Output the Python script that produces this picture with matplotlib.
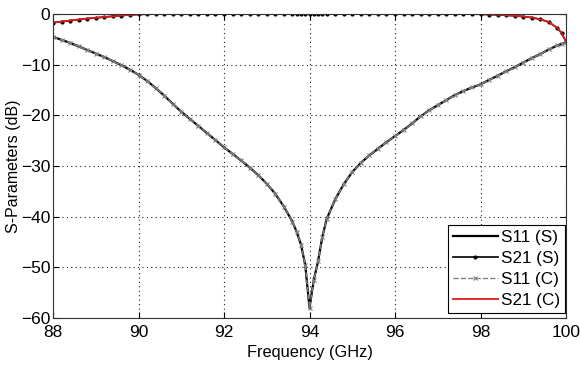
import matplotlib
matplotlib.use("Agg")
import matplotlib.pyplot as plt

plt.rcParams['font.family'] = ['Liberation Sans', 'DejaVu Sans']

freq = [88.0, 88.2, 88.4, 88.6, 88.8, 89.0, 89.2, 89.4, 89.6, 89.8,
        90.0, 90.2, 90.4, 90.6, 90.8, 91.0, 91.2, 91.4, 91.6, 91.8,
        92.0, 92.2, 92.4, 92.6, 92.8, 93.0, 93.2, 93.4, 93.6,
        93.7, 93.8, 93.9, 94.0, 94.1, 94.2, 94.3, 94.4,
        94.6, 94.8, 95.0, 95.2, 95.4, 95.6, 95.8, 96.0, 96.2, 96.4,
        96.6, 96.8, 97.0, 97.2, 97.4, 97.6, 97.8, 98.0, 98.2, 98.4,
        98.6, 98.8, 99.0, 99.2, 99.4, 99.6, 99.8,
        99.9, 100.0]

s11_sim = [-4.5, -5.1, -5.7, -6.4, -7.1, -7.8, -8.5, -9.3, -10.1, -11.0,
           -12.0, -13.2, -14.6, -16.1, -17.7, -19.3, -20.7, -22.1, -23.5, -24.9,
           -26.3, -27.6, -28.9, -30.3, -31.8, -33.5, -35.5, -38.0, -41.0,
           -43.0, -45.5, -49.5, -58.0, -52.5, -48.8, -44.0, -40.5,
           -36.6, -33.6, -31.2, -29.4, -27.9, -26.6, -25.3, -24.1, -22.9, -21.6,
           -20.2, -19.0, -18.0, -17.0, -16.0, -15.2, -14.5, -13.9, -13.0, -12.2,
           -11.3, -10.5, -9.6, -8.7, -7.9, -7.0, -6.2,
           -5.9, -5.6]

s21_sim = [-1.7, -1.5, -1.3, -1.1, -0.9, -0.75, -0.6, -0.45, -0.3, -0.18,
           -0.08, -0.03, -0.01, 0.0, 0.0, 0.0, 0.0, 0.0, 0.0, 0.0,
           0.0, 0.0, 0.0, 0.0, 0.0, 0.0, 0.0, 0.0, 0.0,
           0.0, 0.0, 0.0, 0.0, 0.0, 0.0, 0.0, 0.0,
           0.0, 0.0, 0.0, 0.0, 0.0, 0.0, 0.0, 0.0, 0.0, 0.0,
           0.0, 0.0, 0.0, 0.0, 0.0, 0.0, -0.02, -0.05, -0.1, -0.15,
           -0.25, -0.35, -0.5, -0.7, -1.05, -1.6, -2.8,
           -3.8, -5.5]

s11_circ = list(s11_sim)
s21_circ = list(s21_sim)

labels = ['S11 (S)', 'S21 (S)', 'S11 (C)', 'S21 (C)']
xticks = [88, 90, 92, 94, 96, 98, 100]
yticks = [0, -10, -20, -30, -40, -50, -60]

assert len(freq) == len(s11_sim) == len(s21_sim)

fig = plt.figure(figsize=(5.8, 3.68), dpi=100)
ax = fig.add_axes([53/580, 1-318/368, (566-53)/580, (318-14)/368])

ax.plot(freq, s11_sim, color='black', lw=1.6, label=labels[0])
ax.plot(freq, s21_sim, color='black', lw=1.2, marker='.', ms=4, label=labels[1])
ax.plot(freq, s11_circ, color='#808080', lw=1.0, ls='--', marker='x', ms=3.5,
        mew=0.8, label=labels[2])
ax.plot(freq, s21_circ, color='#dd1c1c', lw=1.3, label=labels[3])

ax.set_xlim(88, 100)
ax.set_ylim(-60, 0)
ax.set_xticks(xticks)
ax.set_yticks(yticks)
ax.tick_params(direction='in', top=True, right=True, labelsize=12.5,
               length=4, width=0.8)
ax.tick_params(axis='x', pad=5)
ax.tick_params(axis='y', pad=2)
ax.grid(True, ls=(0, (1, 3)), color='#222222', lw=0.8)
for s in ax.spines.values():
    s.set_linewidth(0.8)
    s.set_color('#333333')

ax.set_xlabel('Frequency (GHz)', fontsize=11.8, labelpad=4)
ax.set_ylabel('S-Parameters (dB)', fontsize=11.5, labelpad=0)

leg = ax.legend(loc='lower right', bbox_to_anchor=(0.998, 0.016),
                fontsize=12.3, fancybox=False, framealpha=1, edgecolor='black',
                borderaxespad=0, handlelength=2.6, labelspacing=0.36,
                borderpad=0.28, handletextpad=0.2)
leg.get_frame().set_linewidth(0.8)

fig.savefig('out.png', dpi=100)
